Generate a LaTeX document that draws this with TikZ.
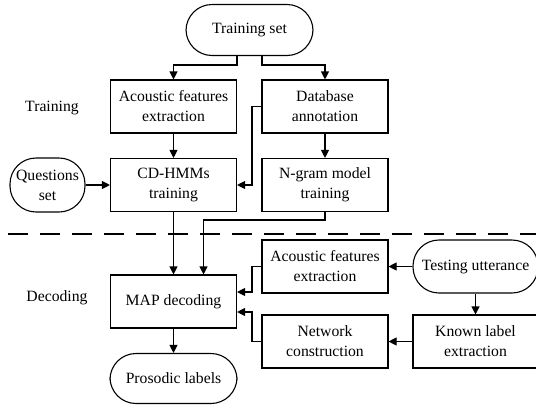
\documentclass[tikz,border=0pt]{standalone}
\usepackage{fontspec}
\setmainfont{Liberation Serif}
\usetikzlibrary{arrows.meta}
\begin{document}
\begin{tikzpicture}[x=1pt,y=-1pt,
  box/.style={draw,line width=1.1pt,minimum width=126pt,minimum height=53pt,inner sep=0pt,align=center,font=\fontsize{15.7}{20}\selectfont},
  term/.style={box,rounded corners=26pt},
  lbl/.style={font=\fontsize{15.7}{20}\selectfont},
  arr/.style={line width=1.1pt,-{Triangle[length=8pt,width=8pt]}},
  ln/.style={line width=1.1pt}]
\useasboundingbox (0,0) rectangle (536,405);
\node[term,minimum width=127pt,minimum height=51pt] (ts) at (249.5,30) {Training set};
\node[box] (afe) at (173.5,106.5) {Acoustic features\\extraction};
\node[box] (da) at (325,106.5) {Database\\annotation};
\node[box] (cd) at (173.5,185) {CD-HMMs\\training};
\node[box] (ng) at (325,185) {N-gram model\\training};
\node[term,minimum width=75pt,minimum height=54pt] (qs) at (47.5,185) {Questions\\set};
\node[lbl] (tr) at (52,108) {Training};
\node[lbl] (dec) at (57,298) {Decoding};
\node[box] (map) at (173.5,301.5) {MAP decoding};
\node[term,minimum width=127pt,minimum height=50pt] (pl) at (173.5,378.5) {Prosodic labels};
\node[box] (afe2) at (325,266.5) {Acoustic features\\extraction};
\node[term,minimum width=125pt,minimum height=53pt] (tu) at (475.5,266.5) {Testing utterance};
\node[box,minimum width=125pt] (kl) at (475.5,341.5) {Known label\\extraction};
\node[box] (nc) at (325,341.5) {Network\\construction};
\coordinate (dl) at (8,234);
\coordinate (dr) at (536,234);
\draw[line width=1.1pt,dash pattern=on 20pt off 12pt] (dl) -- (dr);
% training set splits
\draw[arr] (ts.south -| 237,0) |- (173.5,65) -- (afe.north);
\draw[arr] (ts.south -| 262,0) |- (325,65) -- (da.north);
\draw[arr] (afe) -- (cd);
\draw[arr] (da) -- (ng);
\draw[arr] (da.west) -- (252,106.5) |- (cd.east);
\draw[arr] (qs) -- (cd);
\draw[arr] (cd) -- (map);
\draw[arr] (ng.south) |- (203.5,220) -- (map.north -| 203.5,0);
\draw[arr] (map) -- (pl);
\draw[arr] (tu) -- (afe2);
\draw[arr] (tu) -- (kl);
\draw[arr] (kl) -- (nc);
\draw[arr] (afe2.west) -- (252,266.5) |- (map.east |- 0,292);
\draw[arr] (nc.west) -- (252,341.5) |- (map.east |- 0,312);
\end{tikzpicture}
\end{document}
